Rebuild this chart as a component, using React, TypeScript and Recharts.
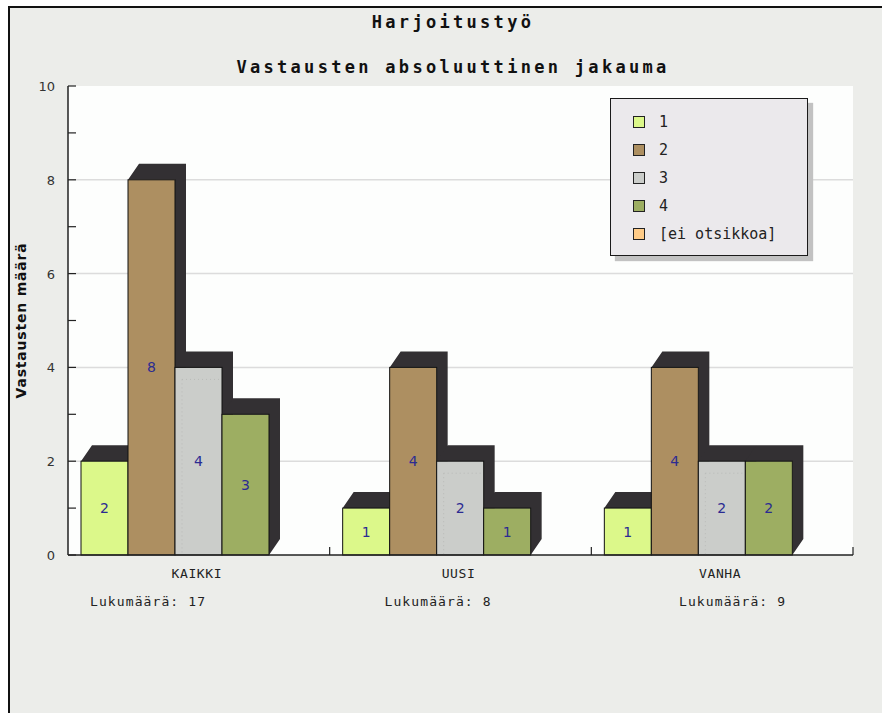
import React from 'react';
import { BarChart, Bar, XAxis, YAxis, CartesianGrid, LabelList } from 'recharts';

const categories = ['KAIKKI', 'UUSI', 'VANHA'];
const series1 = [2, 1, 1];
const series2 = [8, 4, 4];
const series3 = [4, 2, 2];
const series4 = [3, 1, 2];
const series5 = [0, 0, 0];
const seriesNames = ['1', '2', '3', '4', '[ei otsikkoa]'];
const seriesColors = ['#DCF88A', '#AD8F61', '#CBCDCA', '#9DAE62', '#FFCC88'];
const counts = [17, 8, 9];
const yTicks = [0, 1, 2, 3, 4, 5, 6, 7, 8, 9, 10];
const yLabelled = [0, 2, 4, 6, 8, 10];
const gridValues = [2, 4, 6, 8];

const data = categories.map((name, i) => ({
  name,
  s1: series1[i],
  s2: series2[i],
  s3: series3[i],
  s4: series4[i],
  s5: series5[i],
}));

const W = 882;
const H = 713;
const PLOT_LEFT = 68;
const PLOT_RIGHT = 853;
const BAND = (PLOT_RIGHT - PLOT_LEFT) / categories.length;
const DEPTH_X = 11;
const DEPTH_Y = 16;
const mono = '"DejaVu Sans Mono", "Liberation Mono", monospace';
const sans = '"DejaVu Sans", Verdana, sans-serif';

function Bar3D(props: any) {
  const { x, y, width, height, fill, dotted } = props;
  if (!height || height <= 0) return <g />;
  const pts = [
    [x, y],
    [x + DEPTH_X, y - DEPTH_Y],
    [x + width + DEPTH_X, y - DEPTH_Y],
    [x + width + DEPTH_X, y + height - DEPTH_Y],
    [x + width, y + height],
    [x + width, y],
  ]
    .map((p) => p.join(','))
    .join(' ');
  return (
    <g>
      <polygon points={pts} fill="#333033" />
      <rect x={x} y={y} width={width} height={height} fill={fill} stroke="#111" strokeWidth={1} />
      {dotted && (
        <g stroke="#b9bbb8" strokeWidth={1} strokeDasharray="1 3">
          <line x1={x + 7} y1={y + 12} x2={x + 7} y2={y + height} />
          <line x1={x + 7} y1={y + 12} x2={x + width - 3} y2={y + 12} />
        </g>
      )}
    </g>
  );
}

function YTick(props: any) {
  const { x, y, payload } = props;
  const v = payload.value;
  return (
    <g>
      <line x1={x} y1={y} x2={x + 8} y2={y} stroke="#222" strokeWidth={1.2} />
      {yLabelled.includes(v) && (
        <text x={x - 13} y={y + 5} textAnchor="end" fill="#333" fontSize={13} fontFamily={sans}>
          {v}
        </text>
      )}
    </g>
  );
}

function XTick(props: any) {
  const { x, y, payload } = props;
  return (
    <g>
      <line x1={x + BAND / 2} y1={y} x2={x + BAND / 2} y2={y - 8} stroke="#222" strokeWidth={1.2} />
      <text x={x - 2} y={y + 23} textAnchor="middle" fill="#222" fontSize={13} fontFamily={mono} letterSpacing={0.6}>
        {payload.value}
      </text>
    </g>
  );
}

function YLabel(props: any) {
  const { viewBox } = props;
  const cx = 21;
  const cy = viewBox.y + viewBox.height / 2;
  return (
    <text
      x={cx}
      y={cy}
      transform={`rotate(-90 ${cx} ${cy})`}
      textAnchor="middle"
      dominantBaseline="central"
      fontSize={14}
      fontWeight="bold"
      fontFamily={sans}
      letterSpacing={0.8}
      fill="#111"
    >
      Vastausten määrä
    </text>
  );
}

const labelStyle = { fill: '#2b2b92', fontSize: 14, fontFamily: sans };

export default function App() {
  return (
    <div style={{ position: 'absolute', left: 0, top: 0, width: W, height: H, overflow: 'hidden' }}>
      <div
        style={{
          position: 'absolute',
          left: 8,
          top: 6,
          width: W - 8,
          height: H - 6,
          boxSizing: 'border-box',
          borderTop: '2px solid #111',
          borderLeft: '2px solid #111',
          background: '#ECEDEA',
        }}
      />
      <div
        style={{
          position: 'absolute',
          left: 453,
          top: 12,
          transform: 'translateX(-50%)',
          whiteSpace: 'nowrap',
          fontFamily: mono,
          fontWeight: 'bold',
          fontSize: 17,
          letterSpacing: 3.3,
          color: '#111',
        }}
      >
        Harjoitustyö
      </div>
      <div
        style={{
          position: 'absolute',
          left: 453,
          top: 57,
          transform: 'translateX(-50%)',
          whiteSpace: 'nowrap',
          fontFamily: mono,
          fontWeight: 'bold',
          fontSize: 17,
          letterSpacing: 3.3,
          color: '#111',
        }}
      >
        Vastausten absoluuttinen jakauma
      </div>
      <div style={{ position: 'absolute', left: 0, top: 0 }}>
        <BarChart
          width={W}
          height={H}
          data={data}
          margin={{ top: 86, right: W - PLOT_RIGHT, bottom: 128, left: 8 }}
          barCategoryGap={13}
          barGap={0}
        >
          <CartesianGrid
            vertical={false}
            horizontalValues={gridValues}
            stroke="#DCDCDC"
            strokeWidth={1.5}
            fill="#FDFEFD"
          />
          <XAxis
            dataKey="name"
            height={30}
            tickSize={0}
            tickMargin={0}
            tickLine={false}
            axisLine={{ stroke: '#222', strokeWidth: 1.5 }}
            tick={<XTick />}
            interval={0}
          />
          <YAxis
            width={60}
            domain={[0, 10]}
            ticks={yTicks}
            interval={0}
            tickSize={0}
            tickMargin={0}
            tickLine={false}
            axisLine={{ stroke: '#222', strokeWidth: 1.5 }}
            tick={<YTick />}
            label={<YLabel />}
          />
          <Bar dataKey="s1" fill={seriesColors[0]} shape={<Bar3D />} isAnimationActive={false}>
            <LabelList dataKey="s1" position="center" style={labelStyle} />
          </Bar>
          <Bar dataKey="s2" fill={seriesColors[1]} shape={<Bar3D />} isAnimationActive={false}>
            <LabelList dataKey="s2" position="center" style={labelStyle} />
          </Bar>
          <Bar dataKey="s3" fill={seriesColors[2]} shape={<Bar3D dotted />} isAnimationActive={false}>
            <LabelList dataKey="s3" position="center" style={labelStyle} />
          </Bar>
          <Bar dataKey="s4" fill={seriesColors[3]} shape={<Bar3D />} isAnimationActive={false}>
            <LabelList dataKey="s4" position="center" style={labelStyle} />
          </Bar>
          <Bar dataKey="s5" fill={seriesColors[4]} shape={<Bar3D />} isAnimationActive={false} />
        </BarChart>
      </div>
      {counts.map((c, i) => (
        <div
          key={i}
          style={{
            position: 'absolute',
            left: 90 + i * 294.5,
            top: 594,
            whiteSpace: 'nowrap',
            fontFamily: mono,
            fontSize: 13,
            letterSpacing: 1.1,
            color: '#222',
          }}
        >
          Lukumäärä: {c}
        </div>
      ))}
      <div
        style={{
          position: 'absolute',
          left: 610,
          top: 98,
          width: 198,
          height: 158,
          boxSizing: 'border-box',
          border: '1.5px solid #1a1a1a',
          background: '#EBE9EC',
          boxShadow: '5px 5px 1px #c2c2c2',
        }}
      >
        {seriesNames.map((n, i) => (
          <div key={n} style={{ position: 'absolute', left: 22, top: 15 + i * 28, height: 16, display: 'flex', alignItems: 'center' }}>
            <div
              style={{
                width: 12,
                height: 12,
                boxSizing: 'border-box',
                border: '1px solid #222',
                background: seriesColors[i],
              }}
            />
            <span style={{ marginLeft: 14, fontFamily: mono, fontSize: 15, color: '#222', whiteSpace: 'nowrap' }}>{n}</span>
          </div>
        ))}
      </div>
    </div>
  );
}
